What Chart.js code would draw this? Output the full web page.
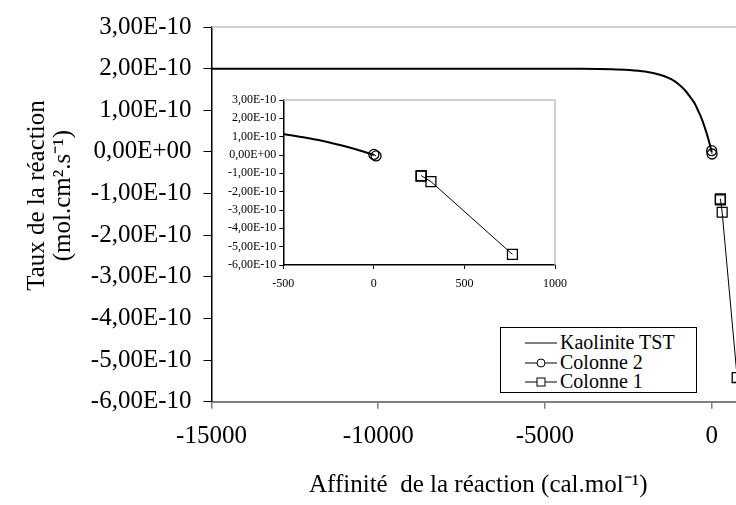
<!DOCTYPE html>
<html>
<head>
<meta charset="utf-8">
<script src="https://cdn.jsdelivr.net/npm/chart.js@4/dist/chart.umd.min.js"></script>
<style>
html, body { margin: 0; padding: 0; background: #fff; overflow: hidden; }
#wrap { position: relative; width: 736px; height: 505px; overflow: hidden; }
#main_chart { position: absolute; left: 0; top: 0; }
#inset_chart { position: absolute; left: 215px; top: 88px; }
#legend { position: absolute; left: 500px; top: 327px; width: 197px; height: 66px; padding-top: 5px;
  box-sizing: border-box; border: 1px solid #000; background: #fff;
  font-family: "Liberation Serif", "Times New Roman", serif; font-size: 20px; color: #000; }
#legend .row { height: 19.5px; line-height: 19.5px; white-space: nowrap; }
#legend svg { vertical-align: top; margin-left: 24px; margin-right: 3px; }
</style>
</head>
<body>
<div id="wrap">
  <canvas id="main_chart" width="760" height="505"></canvas>
  <canvas id="inset_chart" width="360" height="215"></canvas>
  <div id="legend"></div>
</div>
<script>
// Kaolinite TST curve (rate vs affinity)
const tst_affinity = [-15000, -12000, -8000, -5000, -4000, -3000, -2500, -2000, -1500, -1200, -1000, -800, -600, -500, -400, -300, -200, -100, 0];
const tst_rate = [2.00e-10, 2.00e-10, 2.00e-10, 2.00e-10, 1.998e-10, 1.987e-10, 1.97e-10, 1.93e-10, 1.84e-10, 1.74e-10, 1.63e-10, 1.48e-10, 1.27e-10, 1.15e-10, 0.98e-10, 0.80e-10, 0.57e-10, 0.31e-10, 0];

// Colonne 2
const col2_affinity = [0, 12];
const col2_rate = [0.03e-10, -0.05e-10];

// Colonne 1
const col1_affinity = [260, 262, 315, 765];
const col1_rate = [-1.15e-10, -1.13e-10, -1.45e-10, -5.42e-10];

// tick values
const rate_ticks = [3e-10, 2e-10, 1e-10, 0, -1e-10, -2e-10, -3e-10, -4e-10, -5e-10, -6e-10];
const main_affinity_ticks = [-15000, -10000, -5000, 0];
const inset_affinity_ticks = [-500, 0, 500, 1000];

const series_labels = ["Kaolinite TST", "Colonne 2", "Colonne 1"];

const serif = "'Liberation Serif', 'Times New Roman', serif";

function sci_label(v)
{
    if (Math.abs(v) < 1e-15) return "0,00E+00";
    const parts = v.toExponential(2).split("e");
    let exp = parseInt(parts[1], 10);
    const sign = exp < 0 ? "-" : "+";
    exp = Math.abs(exp);
    return parts[0].replace(".", ",") + "E" + sign + (exp < 10 ? "0" + exp : exp);
}

function to_points(xs, ys)
{
    return xs.map((x, i) => ({ x: x, y: ys[i] }));
}

function make_datasets(line_width)
{
    return [
        {
            label: series_labels[0],
            data: to_points(tst_affinity, tst_rate),
            borderColor: "#000",
            borderWidth: line_width,
            pointRadius: 0,
            cubicInterpolationMode: "monotone",
            fill: false
        },
        {
            label: series_labels[1],
            data: to_points(col2_affinity, col2_rate),
            borderColor: "#000",
            borderWidth: 1,
            pointStyle: "circle",
            pointRadius: 5,
            pointBorderWidth: 1.3,
            pointBackgroundColor: "rgba(0,0,0,0)",
            pointBorderColor: "#000",
            fill: false
        },
        {
            label: series_labels[2],
            data: to_points(col1_affinity, col1_rate),
            borderColor: "#000",
            borderWidth: 1,
            pointStyle: "rect",
            pointRadius: 7,
            pointBorderWidth: 1.3,
            pointBackgroundColor: "rgba(0,0,0,0)",
            pointBorderColor: "#000",
            fill: false
        }
    ];
}

// light grey top/right frame of the plot area
const frame_plugin = {
    id: "frame",
    beforeDatasetsDraw(chart, args, opts)
    {
        const ctx = chart.ctx;
        const a = chart.chartArea;
        ctx.save();
        ctx.strokeStyle = opts.color;
        ctx.lineWidth = opts.width;
        ctx.beginPath();
        ctx.moveTo(a.left, a.top);
        ctx.lineTo(a.right, a.top);
        if (opts.right)
        {
            ctx.moveTo(a.right, a.top);
            ctx.lineTo(a.right, a.bottom);
        }
        ctx.stroke();
        ctx.restore();
    }
};

const main_chart = new Chart("main_chart",
{
    type: "line",
    data: { datasets: make_datasets(2) },
    plugins: [frame_plugin],
    options:
    {
        responsive: false,
        animation: false,
        layout: { padding: { top: 16.7, right: 15, left: 0, bottom: 0 } },
        plugins:
        {
            legend: { display: false },
            tooltip: { enabled: false },
            frame: { color: "#c0c0c0", width: 1.5, right: true }
        },
        scales:
        {
            x:
            {
                type: "linear",
                min: -15000,
                max: 1000,
                afterFit: (s) => { s.height = 103.3; },
                afterBuildTicks: (s) => { s.ticks = main_affinity_ticks.map(v => ({ value: v })); },
                ticks:
                {
                    color: "#000",
                    font: { family: serif, size: 25 },
                    padding: 13,
                    maxRotation: 0,
                    callback: (v) => String(v)
                },
                grid: { drawOnChartArea: false, drawTicks: true, tickLength: 7, color: "#808080", lineWidth: 1.5 },
                border: { color: "#808080", width: 2 },
                title:
                {
                    display: true,
                    text: "Affinité  de la réaction (cal.mol⁻¹)",
                    color: "#000",
                    font: { family: serif, size: 25, lineHeight: 1.2 },
                    padding: { top: 0, bottom: 5 }
                }
            },
            y:
            {
                type: "linear",
                min: -6e-10,
                max: 3e-10,
                afterFit: (s) => { s.width = 211.5; },
                afterBuildTicks: (s) => { s.ticks = rate_ticks.map(v => ({ value: v })); },
                ticks:
                {
                    color: "#000",
                    font: { family: serif, size: 25 },
                    padding: 12,
                    callback: (v) => sci_label(v)
                },
                grid: { drawOnChartArea: false, drawTicks: true, tickLength: 8, color: "#000", lineWidth: 1 },
                border: { color: "#000", width: 1.5 },
                title:
                {
                    display: true,
                    // leading spaces lift the centred title a little, as in the original
                    text: ["      Taux de la réaction", "      (mol.cm².s⁻¹)"],
                    color: "#000",
                    font: { family: serif, size: 25, lineHeight: 1.05 },
                    padding: { top: 24, bottom: 0 }
                }
            }
        }
    }
});

const inset_chart = new Chart("inset_chart",
{
    type: "line",
    data: { datasets: make_datasets(2) },
    plugins: [frame_plugin],
    options:
    {
        responsive: false,
        animation: false,
        layout: { padding: { top: 12, right: 19.7, left: 0, bottom: 0 } },
        plugins:
        {
            legend: { display: false },
            tooltip: { enabled: false },
            frame: { color: "#c0c0c0", width: 1.5, right: true }
        },
        scales:
        {
            x:
            {
                type: "linear",
                min: -500,
                max: 1000,
                afterFit: (s) => { s.height = 38; },
                afterBuildTicks: (s) => { s.ticks = inset_affinity_ticks.map(v => ({ value: v })); },
                ticks:
                {
                    color: "#000",
                    font: { family: serif, size: 12 },
                    padding: 8,
                    maxRotation: 0,
                    callback: (v) => String(v)
                },
                grid: { drawOnChartArea: false, drawTicks: true, tickLength: 4, color: "#000", lineWidth: 1 },
                border: { color: "#000", width: 1.5 }
            },
            y:
            {
                type: "linear",
                min: -6e-10,
                max: 3e-10,
                afterFit: (s) => { s.width = 68.3; },
                afterBuildTicks: (s) => { s.ticks = rate_ticks.map(v => ({ value: v })); },
                ticks:
                {
                    color: "#000",
                    font: { family: serif, size: 12 },
                    padding: 3,
                    callback: (v) => sci_label(v)
                },
                grid: { drawOnChartArea: false, drawTicks: true, tickLength: 4, color: "#000", lineWidth: 1 },
                border: { color: "#000", width: 1.5 }
            }
        }
    }
});

// legend box built from the chart's datasets
const legend_symbols = [
    '<line x1="0" y1="10" x2="32" y2="10" stroke="#000" stroke-width="1"/>',
    '<line x1="0" y1="10" x2="32" y2="10" stroke="#000" stroke-width="1"/><circle cx="16" cy="10" r="4" fill="#fff" stroke="#000" stroke-width="1"/>',
    '<line x1="0" y1="10" x2="32" y2="10" stroke="#000" stroke-width="1"/><rect x="12" y="6" width="8" height="8" fill="#fff" stroke="#000" stroke-width="1"/>'
];
const legend_el = document.getElementById("legend");
main_chart.data.datasets.forEach((ds, i) =>
{
    const row = document.createElement("div");
    row.className = "row";
    row.innerHTML = '<svg width="32" height="20" viewBox="0 0 32 20">' + legend_symbols[i] + "</svg>";
    row.appendChild(document.createTextNode(ds.label));
    legend_el.appendChild(row);
});
</script>
</body>
</html>
